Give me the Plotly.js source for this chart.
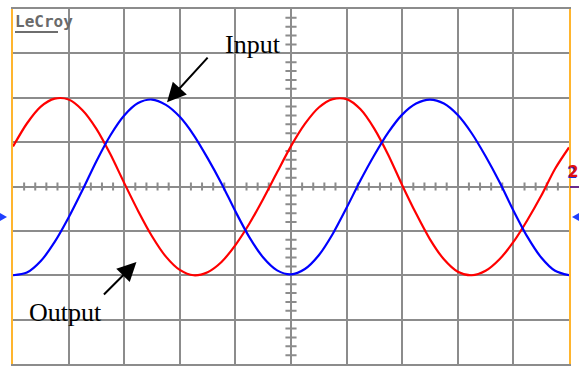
<!DOCTYPE html>
<html>
<head>
<meta charset="utf-8">
<script src="https://cdn.plot.ly/plotly-3.0.1.min.js"></script>
<style>
  html, body { margin: 0; padding: 0; background: #ffffff; }
  #scope { width: 579px; height: 366px; }
</style>
</head>
<body>
<div id="scope"></div>
<script>
// Horizontal position across the screen, in divisions (10 across)
const timeDiv = [0, 0.25, 0.5, 0.75, 1, 1.25, 1.5, 1.75, 2, 2.25, 2.5, 2.75, 3, 3.25, 3.5, 3.75,
  4, 4.25, 4.5, 4.75, 5, 5.25, 5.5, 5.75, 6, 6.25, 6.5, 6.75, 7, 7.25, 7.5, 7.75,
  8, 8.25, 8.5, 8.75, 9, 9.25, 9.5, 9.75, 10];

// Input channel (blue), vertical divisions
const inputDiv = [-2.00, -1.94, -1.68, -1.25, -0.70, -0.08, 0.57, 1.15, 1.60, 1.88, 1.96, 1.84,
  1.57, 1.16, 0.64, 0.07, -0.56, -1.14, -1.60, -1.89, -1.98, -1.86, -1.55, -1.07,
  -0.48, 0.14, 0.71, 1.22, 1.62, 1.87, 1.96, 1.87, 1.61, 1.20, 0.68, 0.10,
  -0.54, -1.13, -1.60, -1.90, -2.00];

// Output channel (red), vertical divisions
const outputDiv = [0.90, 1.42, 1.80, 1.98, 1.96, 1.72, 1.30, 0.73, 0.08, -0.55, -1.12, -1.58,
  -1.88, -2.00, -1.93, -1.70, -1.32, -0.84, -0.28, 0.32, 0.91, 1.41, 1.78, 1.97,
  1.97, 1.74, 1.30, 0.71, 0.03, -0.61, -1.19, -1.64, -1.92, -2.00, -1.90, -1.64,
  -1.25, -0.76, -0.21, 0.40, 0.88];

const traceLabels = ['Input', 'Output'];
const brandLabel = 'LeCroy';
const channelLabel = '2';

// Screen geometry helpers (pixel -> paper)
const W = 579, H = 366;
const M = { l: 13, r: 10, t: 9, b: 2 };
const pw = W - M.l - M.r, ph = H - M.t - M.b;
const px = x => (x - M.l) / pw;
const py = y => (H - M.b - y) / ph;

const GRID = '#8c8c8c';

// Graticule sub-division ticks on the centre cross
let tickPath = '';
for (let i = 1; i < 50; i++) {
  const x = i * 0.2;
  if (Math.abs(x - Math.round(x)) < 1e-6) continue;
  tickPath += `M${x},-0.09L${x},0.09`;
}
for (let i = 1; i < 40; i++) {
  const y = -4 + i * 0.2;
  if (Math.abs(y - Math.round(y)) < 1e-6) continue;
  tickPath += `M4.9,${y}L5.1,${y}`;
}

const shapes = [
  { type: 'path', xref: 'x', yref: 'y', path: tickPath, line: { color: GRID, width: 2 }, layer: 'below' },
  // underline of the brand mark
  { type: 'line', xref: 'paper', yref: 'paper', x0: px(15), x1: px(58), y0: py(32), y1: py(32),
    line: { color: '#6e6e6e', width: 2 } },
  // channel offset markers on both edges
  { type: 'path', xref: 'paper', yref: 'paper',
    path: `M${px(0)},${py(213)}L${px(7)},${py(217)}L${px(0)},${py(221)}Z`,
    fillcolor: '#1f3fff', line: { width: 0 } },
  { type: 'path', xref: 'paper', yref: 'paper',
    path: `M${px(579)},${py(213)}L${px(572)},${py(217)}L${px(579)},${py(221)}Z`,
    fillcolor: '#1f3fff', line: { width: 0 } },
  // channel level bar
  { type: 'line', xref: 'paper', yref: 'paper', x0: px(570), x1: px(579), y0: py(187), y1: py(187),
    line: { color: '#6a2a8a', width: 2 } }
];

const serif = { family: 'Liberation Serif, Times New Roman, serif', size: 26, color: '#000000' };

const annotations = [
  { xref: 'paper', yref: 'paper', x: px(13), y: py(22), xanchor: 'left', yanchor: 'middle',
    text: '<b>' + brandLabel + '</b>', showarrow: false,
    font: { family: 'DejaVu Sans Mono, monospace', size: 16, color: '#6a6a6a' } },
  { xref: 'paper', yref: 'paper', x: px(572), y: py(173), xanchor: 'center', yanchor: 'middle',
    text: '<b>' + channelLabel + '</b>', showarrow: false,
    font: { family: 'DejaVu Sans', size: 15, color: '#1f2fd0' } },
  { xref: 'paper', yref: 'paper', x: px(573), y: py(172), xanchor: 'center', yanchor: 'middle',
    text: '<b>' + channelLabel + '</b>', showarrow: false,
    font: { family: 'DejaVu Sans', size: 15, color: '#e01010' } },
  { xref: 'paper', yref: 'paper', x: px(253), y: py(45), xanchor: 'center', yanchor: 'middle',
    text: traceLabels[0], showarrow: false, font: serif },
  { xref: 'paper', yref: 'paper', x: px(65), y: py(312), xanchor: 'center', yanchor: 'middle',
    text: traceLabels[1], showarrow: false, font: serif },
  { xref: 'x', yref: 'y', x: 2.77, y: 1.90, ax: 42, ay: -46, text: '', showarrow: true,
    arrowhead: 2, arrowsize: 1.9, arrowwidth: 2, arrowcolor: '#000000', standoff: 0 },
  { xref: 'x', yref: 'y', x: 2.22, y: -1.70, ax: -34, ay: 34, text: '', showarrow: true,
    arrowhead: 2, arrowsize: 1.9, arrowwidth: 2, arrowcolor: '#000000', standoff: 0 }
];

const data = [
  { x: timeDiv, y: outputDiv, name: traceLabels[1], type: 'scatter', mode: 'lines',
    line: { color: '#ff0000', width: 2.2, shape: 'spline', smoothing: 0.8 } },
  { x: timeDiv, y: inputDiv, name: traceLabels[0], type: 'scatter', mode: 'lines',
    line: { color: '#0000ff', width: 2.2, shape: 'spline', smoothing: 0.8 } }
];

const layout = {
  width: W, height: H,
  margin: { l: M.l, r: M.r, t: M.t, b: M.b, pad: 0 },
  paper_bgcolor: '#ffffff', plot_bgcolor: '#ffffff',
  showlegend: false,
  xaxis: { range: [0, 10], dtick: 1, tick0: 0, showgrid: true, gridcolor: GRID, gridwidth: 2,
    zeroline: false, showticklabels: false, ticks: '', showline: true, mirror: true,
    linecolor: GRID, linewidth: 2, fixedrange: true },
  yaxis: { range: [-4, 4], dtick: 1, tick0: 0, showgrid: true, gridcolor: GRID, gridwidth: 2,
    zeroline: false, showticklabels: false, ticks: '', showline: true, mirror: true,
    linecolor: '#ffb52e', linewidth: 2, fixedrange: true },
  shapes: shapes,
  annotations: annotations
};

Plotly.newPlot('scope', data, layout, { displayModeBar: false, staticPlot: true });
</script>
</body>
</html>
